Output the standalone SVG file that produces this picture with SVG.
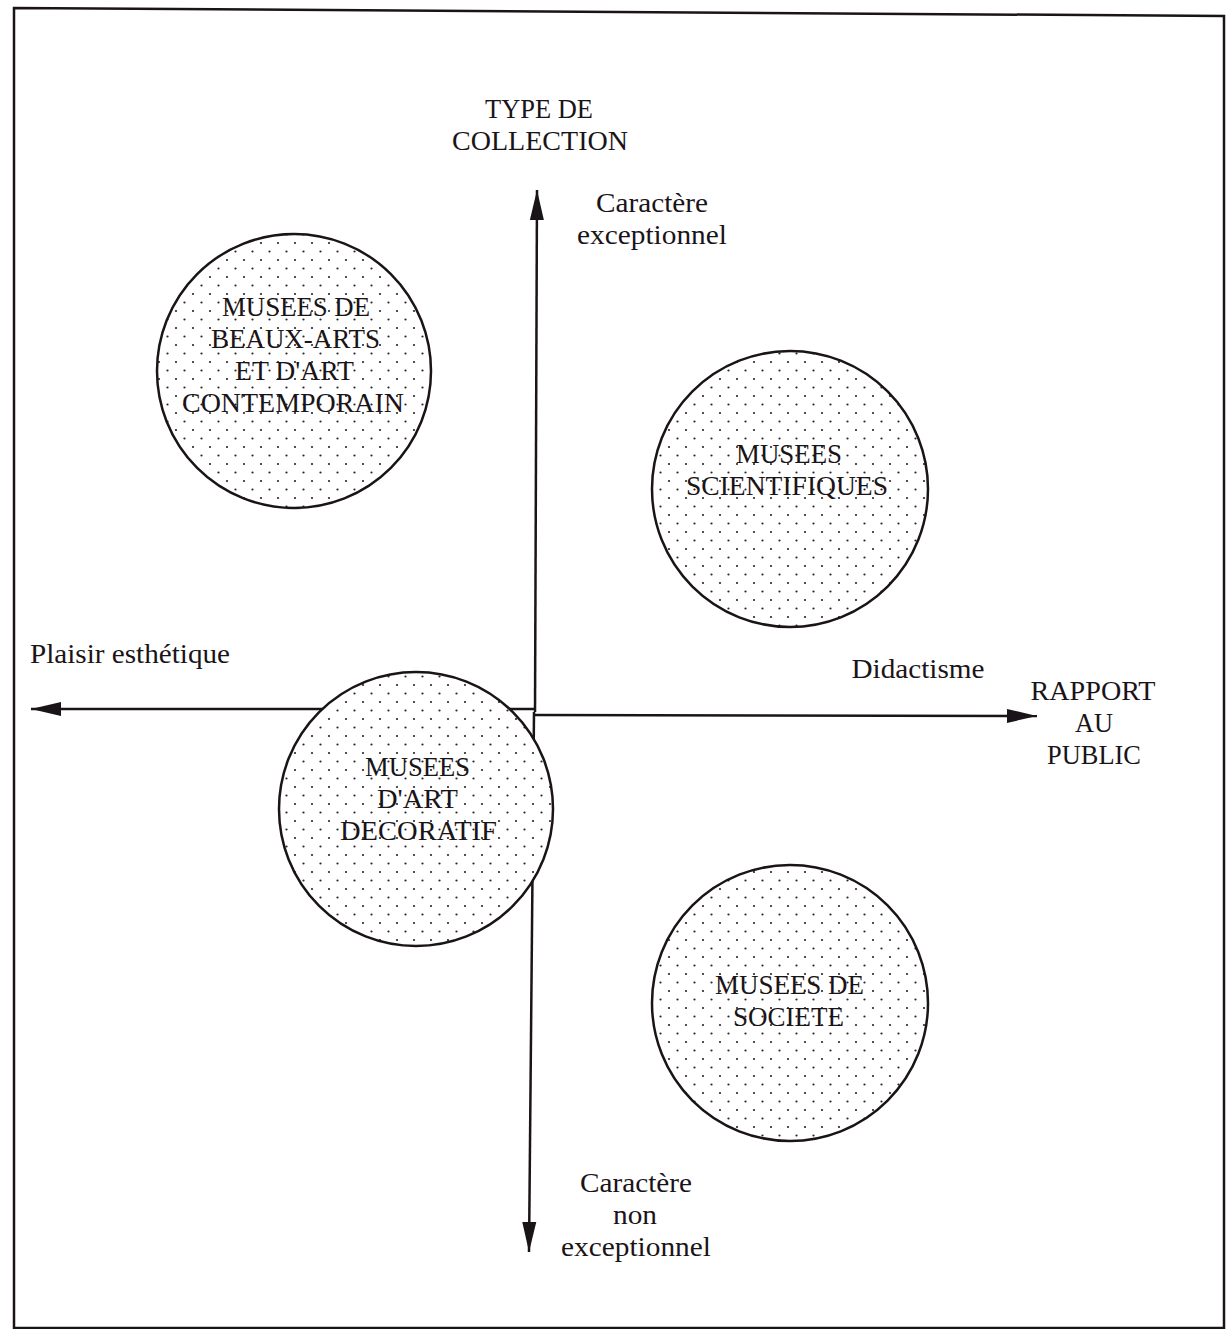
<svg xmlns="http://www.w3.org/2000/svg" width="1228" height="1329" viewBox="0 0 1228 1329">
<style>
text{font-family:"Liberation Serif","Times New Roman",serif;fill:#1a1418;font-size:27px;text-anchor:middle}
.circ{fill:url(#dots);stroke:#1a1418;stroke-width:2.5}
.axis{fill:none;stroke:#1a1418;stroke-width:2.5}
</style>
<defs>
<pattern id="dots" x="4" y="3" width="17" height="17" patternUnits="userSpaceOnUse">
<rect width="17" height="17" fill="#fff"/>
<circle cx="2" cy="2" r="1.1" fill="#2a2428"/>
<circle cx="10.5" cy="10.5" r="1.1" fill="#2a2428"/>
</pattern>
<marker id="arr" markerWidth="32" markerHeight="16" refX="30" refY="8" orient="auto" markerUnits="userSpaceOnUse">
<path d="M0,1 L30,8 L0,15 Z" fill="#1a1418"/>
</marker>
</defs>
<rect width="1228" height="1329" fill="#fff"/>
<polygon points="14,8 1224,16 1224,1328 14,1328" fill="none" stroke="#1a1418" stroke-width="2.5"/>

<g id="connectors">
<path class="axis" d="M535,712 L537,190" marker-end="url(#arr)"/>
<path class="axis" d="M534,712 L529,1252" marker-end="url(#arr)"/>
<path class="axis" d="M536,709 L31,709" marker-end="url(#arr)"/>
<path class="axis" d="M535,715 L1037,716" marker-end="url(#arr)"/>
</g>

<g id="labels">
<text x="539" y="118" textLength="108" lengthAdjust="spacingAndGlyphs">TYPE DE</text>
<text x="540" y="150" textLength="176" lengthAdjust="spacingAndGlyphs">COLLECTION</text>
<text x="652" y="212" textLength="112" lengthAdjust="spacingAndGlyphs">Caractère</text>
<text x="652" y="244" textLength="150" lengthAdjust="spacingAndGlyphs">exceptionnel</text>
<text x="30" y="663" style="text-anchor:start" textLength="200" lengthAdjust="spacingAndGlyphs">Plaisir esthétique</text>
<text x="918" y="678" textLength="133" lengthAdjust="spacingAndGlyphs">Didactisme</text>
<text x="1093" y="700" textLength="125" lengthAdjust="spacingAndGlyphs">RAPPORT</text>
<text x="1094" y="732" textLength="38" lengthAdjust="spacingAndGlyphs">AU</text>
<text x="1094" y="764" textLength="94" lengthAdjust="spacingAndGlyphs">PUBLIC</text>
<text x="636" y="1192" textLength="112" lengthAdjust="spacingAndGlyphs">Caractère</text>
<text x="635" y="1224" textLength="44" lengthAdjust="spacingAndGlyphs">non</text>
<text x="636" y="1256" textLength="150" lengthAdjust="spacingAndGlyphs">exceptionnel</text>
</g>

<g id="beaux-arts">
<circle class="circ" cx="294" cy="371" r="137"/>
<text x="296" y="316" textLength="148" lengthAdjust="spacingAndGlyphs">MUSEES DE</text>
<text x="295.5" y="348" textLength="169" lengthAdjust="spacingAndGlyphs">BEAUX-ARTS</text>
<text x="294.5" y="380" textLength="119" lengthAdjust="spacingAndGlyphs">ET D'ART</text>
<text x="293" y="412" textLength="222" lengthAdjust="spacingAndGlyphs">CONTEMPORAIN</text>
</g>

<g id="scientifiques">
<circle class="circ" cx="790" cy="489" r="138"/>
<text x="789" y="463" textLength="106" lengthAdjust="spacingAndGlyphs">MUSEES</text>
<text x="787" y="495" textLength="202" lengthAdjust="spacingAndGlyphs">SCIENTIFIQUES</text>
</g>

<g id="art-decoratif">
<circle class="circ" cx="416" cy="809" r="137"/>
<text x="417.5" y="776" textLength="105" lengthAdjust="spacingAndGlyphs">MUSEES</text>
<text x="417.5" y="808" textLength="81" lengthAdjust="spacingAndGlyphs">D'ART</text>
<text x="418.5" y="840" textLength="157" lengthAdjust="spacingAndGlyphs">DECORATIF</text>
</g>

<g id="societe">
<circle class="circ" cx="790" cy="1003" r="138"/>
<text x="789.5" y="994" textLength="149" lengthAdjust="spacingAndGlyphs">MUSEES DE</text>
<text x="788.5" y="1026" textLength="111" lengthAdjust="spacingAndGlyphs">SOCIETE</text>
</g>
</svg>
